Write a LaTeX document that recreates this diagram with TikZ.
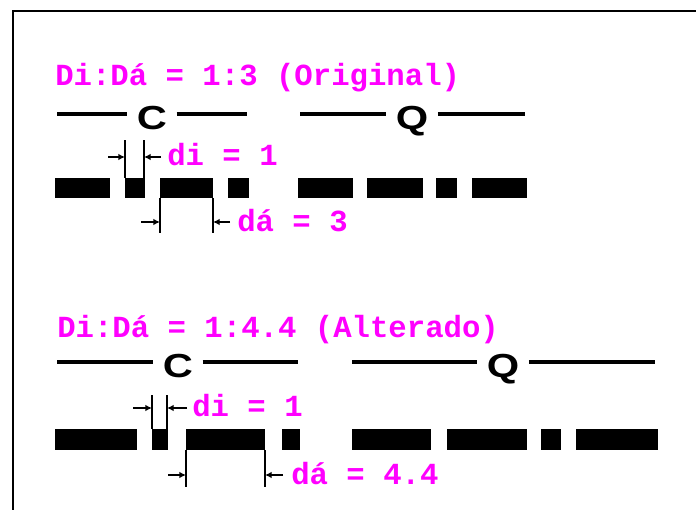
\documentclass[tikz,border=0pt]{standalone}
\usepackage{fontspec}
\usepackage{tikz}
\usetikzlibrary{arrows.meta,positioning,calc}
\newfontfamily\labelfont[BoldFont={Liberation Mono Bold}]{Liberation Mono}
\newfontfamily\letterfont[BoldFont={Liberation Sans Bold}]{Liberation Sans}
\definecolor{labelpink}{HTML}{FF00FF}
\definecolor{ink}{HTML}{000000}
\tikzset{
  ratiolabel/.style={
    text=labelpink,
    font=\labelfont\bfseries\fontsize{23}{23}\selectfont,
    inner sep=0pt
  },
  letternode/.style={
    text=ink,
    font=\letterfont\bfseries\fontsize{25}{25}\selectfont,
    inner xsep=7pt,
    inner ysep=0pt
  },
  letterline/.style={line width=3.6pt,draw=ink},
  morsebar/.style={fill=ink},
  dimline/.style={line width=1.1pt,draw=ink},
  dimarrow/.style={-{Latex[length=5pt,width=5pt]},line width=1.1pt,draw=ink},
  frameline/.style={line width=1.6pt,draw=ink}
}

\begin{document}
\begin{tikzpicture}[x=0.75pt,y=-0.75pt]
  \useasboundingbox (0,0) rectangle (696,510);
  \draw[frameline] (13,512) -- (13,11) -- (698,11);

  % ratio 1:3
  \node[ratiolabel, anchor=base west] (title1) at (55,85) {Di:Dá = 1:3 (Original)};
  \node[letternode, anchor=base] (c1) at (152,129) {\scalebox{1.25}[1]{C}};
  \node[letternode, anchor=base] (q1) at (412,129) {\scalebox{1.25}[1]{Q}};
  \coordinate (c1l) at (57,114);  \coordinate (c1r) at (247,114);
  \coordinate (q1l) at (300,114); \coordinate (q1r) at (525,114);
  \draw[letterline] (c1l) -- (c1l -| c1.west);
  \draw[letterline] (c1.east |- c1r) -- (c1r);
  \draw[letterline] (q1l) -- (q1l -| q1.west);
  \draw[letterline] (q1.east |- q1r) -- (q1r);
  \foreach \a/\b in {55/110,125/145,160/213,228/249,298/353,367/423,436/457,472/527}
    \fill[morsebar] (\a,178) rectangle (\b,198);
  \draw[dimline] (125,140) -- (125,178);
  \draw[dimline] (144,140) -- (144,178);
  \draw[dimarrow] (108,157) -- (125,157);
  \draw[dimarrow] (161,157) -- (144,157);
  \node[ratiolabel, anchor=west] (di1) at (167,155) {di = 1};
  \draw[dimline] (160,198) -- (160,233);
  \draw[dimline] (213,198) -- (213,233);
  \draw[dimarrow] (141,222) -- (160,222);
  \draw[dimarrow] (230,222) -- (213,222);
  \node[ratiolabel, anchor=west] (da1) at (237,221) {dá = 3};

  % ratio 1:4.4
  \node[ratiolabel, anchor=base west] (title2) at (57,337) {Di:Dá = 1:4.4 (Alterado)};
  \node[letternode, anchor=base] (c2) at (178,377) {\scalebox{1.25}[1]{C}};
  \node[letternode, anchor=base] (q2) at (503,377) {\scalebox{1.25}[1]{Q}};
  \coordinate (c2l) at (57,362);  \coordinate (c2r) at (298,362);
  \coordinate (q2l) at (352,362); \coordinate (q2r) at (655,362);
  \draw[letterline] (c2l) -- (c2l -| c2.west);
  \draw[letterline] (c2.east |- c2r) -- (c2r);
  \draw[letterline] (q2l) -- (q2l -| q2.west);
  \draw[letterline] (q2.east |- q2r) -- (q2r);
  \foreach \a/\b in {55/137,152/168,186/265,282/300,352/431,447/527,541/561,576/658}
    \fill[morsebar] (\a,429) rectangle (\b,450);
  \draw[dimline] (152,395) -- (152,429);
  \draw[dimline] (167,395) -- (167,429);
  \draw[dimarrow] (133,408) -- (152,408);
  \draw[dimarrow] (187,408) -- (167,408);
  \node[ratiolabel, anchor=west] (di2) at (192,406) {di = 1};
  \draw[dimline] (186,450) -- (186,487);
  \draw[dimline] (265,450) -- (265,487);
  \draw[dimarrow] (168,475) -- (186,475);
  \draw[dimarrow] (283,475) -- (265,475);
  \node[ratiolabel, anchor=west] (da2) at (291,474) {dá = 4.4};
\end{tikzpicture}
\end{document}
